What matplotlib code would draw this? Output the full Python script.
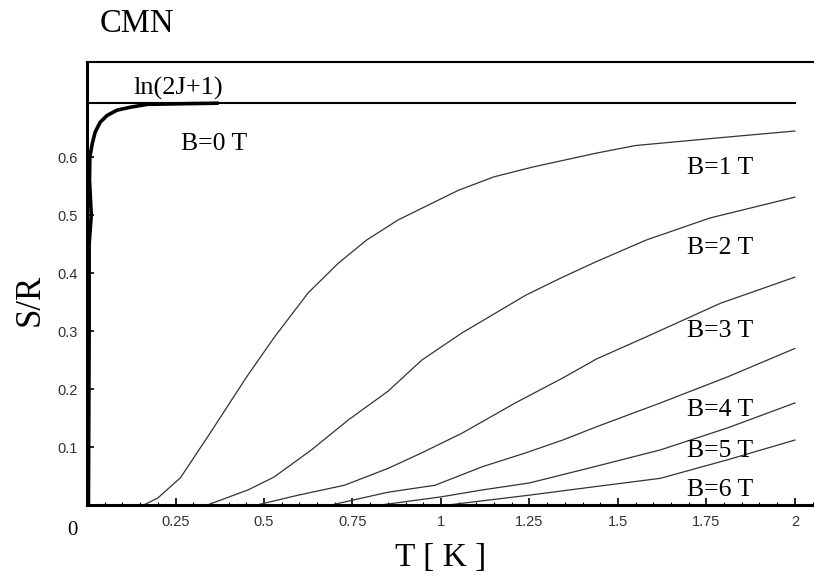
import matplotlib
matplotlib.use('Agg')
import matplotlib.pyplot as plt
from matplotlib.ticker import MultipleLocator

# values
b0_T = [0.004, 0.006, 0.006, 0.012, 0.007, 0.008, 0.015, 0.023, 0.037, 0.057, 0.085, 0.122, 0.17, 0.26, 0.372]
b0_S = [0.0, 0.30, 0.45, 0.50, 0.56, 0.60, 0.624, 0.643, 0.66, 0.672, 0.681, 0.686, 0.691, 0.692, 0.693]

b1_T = [0.16, 0.2, 0.264, 0.35, 0.45, 0.53, 0.625, 0.71, 0.79, 0.88, 1.05, 1.15, 1.26, 1.44, 1.55, 1.78, 2.0]
b1_S = [0.0, 0.012, 0.047, 0.126, 0.22, 0.29, 0.366, 0.417, 0.457, 0.492, 0.543, 0.566, 0.583, 0.607, 0.62, 0.633, 0.645]

b2_T = [0.34, 0.455, 0.528, 0.634, 0.739, 0.85, 0.946, 1.06, 1.24, 1.344, 1.44, 1.58, 1.76, 2.0]
b2_S = [0.0, 0.026, 0.048, 0.095, 0.147, 0.196, 0.25, 0.297, 0.362, 0.393, 0.42, 0.457, 0.495, 0.531]

b3_T = [0.48, 0.597, 0.727, 0.85, 0.946, 1.06, 1.21, 1.344, 1.44, 1.58, 1.79, 2.0]
b3_S = [0.0, 0.017, 0.034, 0.063, 0.09, 0.124, 0.176, 0.219, 0.252, 0.29, 0.348, 0.393]

b4_T = [0.69, 0.85, 0.983, 1.117, 1.24, 1.344, 1.44, 1.62, 1.81, 2.0]
b4_S = [0.0, 0.022, 0.034, 0.066, 0.09, 0.112, 0.135, 0.176, 0.221, 0.27]

b5_T = [0.83, 1.0, 1.117, 1.25, 1.44, 1.62, 1.81, 2.0]
b5_S = [0.0, 0.014, 0.026, 0.038, 0.067, 0.095, 0.133, 0.176]

b6_T = [1.02, 1.25, 1.44, 1.62, 1.81, 2.0]
b6_S = [0.0, 0.017, 0.032, 0.046, 0.078, 0.112]

S_max = 0.693  # ln(2J+1), J=1/2
T_end = 2.0

labels = ['B=1 T', 'B=2 T', 'B=3 T', 'B=4 T', 'B=5 T', 'B=6 T']
label_y = [0.582, 0.444, 0.300, 0.164, 0.093, 0.026]

serif = 'Liberation Serif'
sans = 'Liberation Sans'

fig = plt.figure(figsize=(8.14, 5.77), dpi=100)
ax = fig.add_axes([0.1069, 0.1248, 0.8931, 0.7677])

ax.plot([0, T_end], [S_max, S_max], color='black', lw=1.5)
ax.plot(b0_T, b0_S, color='black', lw=2.6, solid_capstyle='butt')
for t, s in [(b1_T, b1_S), (b2_T, b2_S), (b3_T, b3_S),
             (b4_T, b4_S), (b5_T, b5_S), (b6_T, b6_S)]:
    ax.plot(t, s, color='#333333', lw=0.9)

ax.set_xlim(0, 2.054)
ax.set_ylim(0, 0.764)

ax.spines['right'].set_visible(False)
ax.spines['top'].set_linewidth(1.5)
ax.spines['left'].set_linewidth(2.2)
ax.spines['bottom'].set_linewidth(2.2)

ax.set_xticks([0.25, 0.5, 0.75, 1, 1.25, 1.5, 1.75, 2])
ax.set_xticklabels(['0.25', '0.5', '0.75', '1', '1.25', '1.5', '1.75', '2'])
ax.xaxis.set_minor_locator(MultipleLocator(0.05))
ax.set_yticks([0.1, 0.2, 0.3, 0.4, 0.5, 0.6])
ax.set_yticklabels(['0.1', '0.2', '0.3', '0.4', '0.5', '0.6'])
ax.tick_params(which='major', direction='in', length=5, width=1.2,
               labelsize=10.5, labelcolor='#333333', pad=7)
ax.tick_params(which='minor', direction='in', length=2.5, width=0.8)
ax.tick_params(axis='x', top=False)
ax.tick_params(axis='y', right=False)
for lab in ax.get_xticklabels() + ax.get_yticklabels():
    lab.set_family(sans)

ax.text(0.13, 0.718, 'ln(2J+1)', fontsize=19, family=serif, va='center')
ax.text(0.265, 0.622, 'B=0 T', fontsize=18.5, family=serif, va='center')
for lab, y in zip(labels, label_y):
    ax.text(1.695, y, lab, fontsize=18.5, family=serif, va='center')

fig.text(0.123, 0.959, 'CMN', fontsize=23.5, family=serif, va='center')
fig.text(0.037, 0.48, 'S/R', fontsize=25, family=serif, rotation=90,
         va='center', ha='center')
fig.text(0.541, 0.033, 'T [ K ]', fontsize=24, family=serif,
         va='center', ha='center')
fig.text(0.089, 0.08, '0', fontsize=15, family=serif, va='center', ha='center')

fig.savefig('out.png', dpi=100)
